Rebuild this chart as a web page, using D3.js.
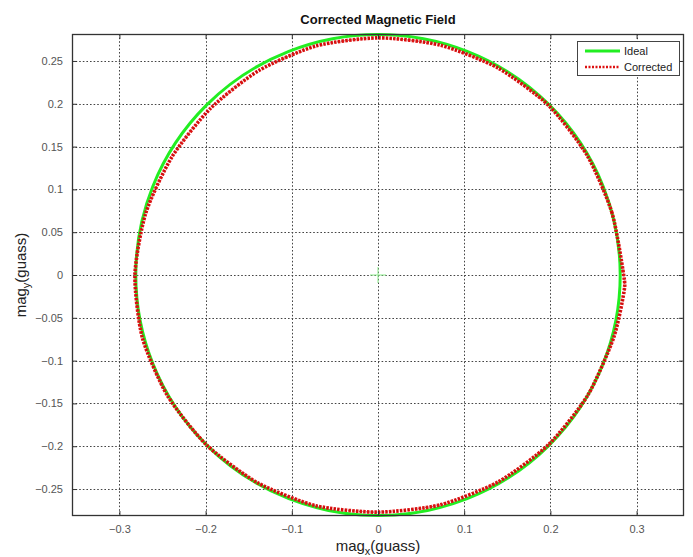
<!DOCTYPE html>
<html>
<head>
<meta charset="utf-8">
<script src="https://cdn.jsdelivr.net/npm/d3@7"></script>
<style>
  html, body { margin: 0; padding: 0; background: #fff; }
  svg { display: block; font-family: "Liberation Sans", Arial, sans-serif; }
</style>
</head>
<body>
<svg id="chart" width="693" height="557"></svg>
<script>
// Axis ticks
const xTicks = [-0.3, -0.2, -0.1, 0, 0.1, 0.2, 0.3];
const yTicks = [-0.25, -0.2, -0.15, -0.1, -0.05, 0, 0.05, 0.1, 0.15, 0.2, 0.25];

// Ideal field: circle centred on the origin
const idealCenter = [0, 0];
const idealRadius = 0.281;

// Corrected field samples: angle (deg) and measured radius (gauss)
const corrAngleDeg = [0, 15, 30, 45, 60, 75, 90, 105, 120, 135, 150, 165,
                      180, 195, 210, 225, 240, 255, 270, 285, 300, 315, 330, 345, 356];
const corrRadius   = [0.285, 0.281, 0.280, 0.280, 0.279, 0.278, 0.277, 0.277, 0.276, 0.275, 0.276, 0.279,
                      0.282, 0.283, 0.282, 0.281, 0.280, 0.279, 0.277, 0.278, 0.279, 0.280, 0.281, 0.283, 0.286];

const legendLabels = ["Ideal", "Corrected"];

const svg = d3.select("#chart");
const pL = 72, pR = 684, pT = 34, pB = 516;

const x = d3.scaleLinear().domain([-0.355, 0.355]).range([pL, pR]);
const y = d3.scaleLinear().domain([-0.2815, 0.2815]).range([pB, pT]);

// Plot background
svg.append("rect").attr("x", pL).attr("y", pT)
  .attr("width", pR - pL).attr("height", pB - pT).attr("fill", "#fff");

// Grid lines
const grid = svg.append("g").attr("stroke", "#444").attr("stroke-width", 1)
  .attr("stroke-dasharray", "1.6,2").attr("fill", "none");
xTicks.forEach(t => grid.append("line")
  .attr("x1", Math.round(x(t)) + 0.5).attr("x2", Math.round(x(t)) + 0.5)
  .attr("y1", pT).attr("y2", pB));
yTicks.forEach(t => grid.append("line")
  .attr("y1", Math.round(y(t)) + 0.5).attr("y2", Math.round(y(t)) + 0.5)
  .attr("x1", pL).attr("x2", pR));

// Ideal circle
svg.append("ellipse")
  .attr("cx", x(idealCenter[0])).attr("cy", y(idealCenter[1]))
  .attr("rx", x(idealRadius) - x(0)).attr("ry", y(0) - y(idealRadius))
  .attr("fill", "none").attr("stroke", "#22ee22").attr("stroke-width", 3);

// Centre marker
const cm = svg.append("g").attr("stroke", "#88ee88").attr("stroke-width", 1.2).attr("opacity", 0.8);
cm.append("line").attr("x1", x(0) - 8).attr("x2", x(0) + 8).attr("y1", y(0)).attr("y2", y(0));
cm.append("line").attr("x1", x(0)).attr("x2", x(0)).attr("y1", y(0) - 8).attr("y2", y(0) + 8);

// Corrected trace
const corrPts = corrAngleDeg.map((a, i) => {
  const r = corrRadius[i], t = a * Math.PI / 180;
  return [r * Math.cos(t), r * Math.sin(t)];
});
const line = d3.line().x(d => x(d[0])).y(d => y(d[1])).curve(d3.curveCardinalClosed.tension(0.3));
svg.append("path").attr("d", line(corrPts))
  .attr("fill", "none").attr("stroke", "#dd1111").attr("stroke-width", 3.6)
  .attr("stroke-dasharray", "2.5,1.2");
svg.append("path").attr("d", line(corrPts))
  .attr("fill", "none").attr("stroke", "#990000").attr("stroke-width", 1.2)
  .attr("stroke-dasharray", "1,2.5").attr("opacity", 0.6);

// Axes box with inward ticks on all sides
const axisCol = "#333";
svg.append("rect").attr("x", pL + 0.5).attr("y", pT + 0.5)
  .attr("width", pR - pL - 1).attr("height", pB - pT - 1)
  .attr("fill", "none").attr("stroke", axisCol).attr("stroke-width", 1.3);

const axB = d3.axisBottom(x).tickValues(xTicks).tickSize(-5).tickPadding(9).tickFormat(d3.format("~g"));
const axT = d3.axisTop(x).tickValues(xTicks).tickSize(-5).tickFormat("");
const axL = d3.axisLeft(y).tickValues(yTicks).tickSize(-5).tickPadding(9).tickFormat(d3.format("~g"));
const axR = d3.axisRight(y).tickValues(yTicks).tickSize(-5).tickFormat("");

function styleAxis(g) {
  g.select(".domain").remove();
  g.selectAll(".tick line").attr("stroke", axisCol);
  g.selectAll(".tick text").attr("fill", "#555").attr("font-size", 11)
    .attr("font-family", "'Liberation Sans', Arial, sans-serif");
}
svg.append("g").attr("transform", `translate(0,${pB})`).call(axB).call(styleAxis);
svg.append("g").attr("transform", `translate(0,${pT})`).call(axT).call(styleAxis);
svg.append("g").attr("transform", `translate(${pL},0)`).call(axL).call(styleAxis);
svg.append("g").attr("transform", `translate(${pR},0)`).call(axR).call(styleAxis);

// Title
svg.append("text").attr("x", (pL + pR) / 2).attr("y", 24)
  .attr("text-anchor", "middle").attr("font-weight", "bold").attr("font-size", 13)
  .attr("fill", "#111").text("Corrected Magnetic Field");

// Axis labels
const xl = svg.append("text").attr("x", (pL + pR) / 2).attr("y", 551)
  .attr("text-anchor", "middle").attr("font-size", 15).attr("fill", "#222");
xl.append("tspan").text("mag");
xl.append("tspan").attr("font-size", 11).attr("dy", 4).text("x");
xl.append("tspan").attr("dy", -4).text("(guass)");

const yl = svg.append("text")
  .attr("transform", `translate(26,${(pT + pB) / 2}) rotate(-90)`)
  .attr("text-anchor", "middle").attr("font-size", 15).attr("fill", "#222");
yl.append("tspan").text("mag");
yl.append("tspan").attr("font-size", 11).attr("dy", 4).text("y");
yl.append("tspan").attr("dy", -4).text("(guass)");

// Legend
const lg = svg.append("g").attr("transform", "translate(577,41)");
lg.append("rect").attr("x", 0.5).attr("y", 0.5).attr("width", 102).attr("height", 34)
  .attr("fill", "#fff").attr("stroke", "#444").attr("stroke-width", 1);
const legendStyles = [
  { stroke: "#22ee22", width: 3, dash: null },
  { stroke: "#dd1111", width: 2.5, dash: "2,1.5" }
];
legendLabels.forEach((lab, i) => {
  const yy = 10 + i * 16;
  lg.append("line").attr("x1", 8).attr("x2", 43).attr("y1", yy).attr("y2", yy)
    .attr("stroke", legendStyles[i].stroke).attr("stroke-width", legendStyles[i].width)
    .attr("stroke-dasharray", legendStyles[i].dash);
  lg.append("text").attr("x", 47).attr("y", yy + 4).attr("font-size", 11)
    .attr("fill", "#222").text(lab);
});
</script>
</body>
</html>
